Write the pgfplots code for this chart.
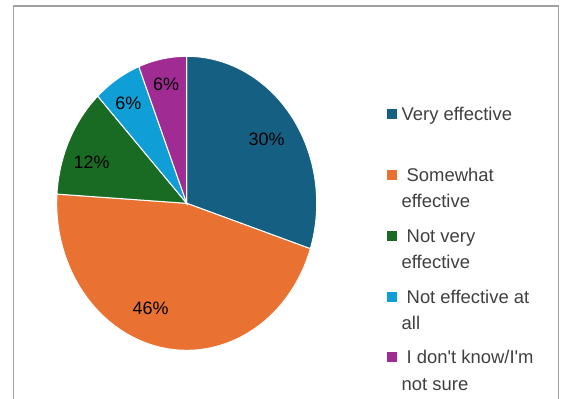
\documentclass[border=0pt]{standalone}
\usepackage{fontspec}
\newfontfamily\chartfont{Liberation Sans}
\usepackage{pgfplots}
\usepackage{pgfplotstable}
\pgfplotsset{compat=1.18}
\definecolor{cA}{HTML}{156082}
\definecolor{cB}{HTML}{E97132}
\definecolor{cC}{HTML}{196B24}
\definecolor{cD}{HTML}{0F9ED5}
\definecolor{cE}{HTML}{A02B93}
\definecolor{framegray}{RGB}{160,160,160}
\definecolor{labelgray}{RGB}{64,64,64}

% share of answers (percent), in order clockwise from 12 o'clock
\pgfplotstableread{
pct col
30 cA
46 cB
12 cC
6 cD
6 cE
}\piedata

\newcommand\lgd[2]{\parbox[t]{170bp}{\chartfont\strut #1\newline\strut #2}}

\begin{document}
\begin{tikzpicture}[font=\chartfont]
\useasboundingbox (0,0) rectangle (565bp,399bp);
\fill[white] (0,0) rectangle (565bp,399bp);
\draw[framegray, line width=1.5bp] (13.5bp,-2bp) -- (13.5bp,393bp) -- (558.5bp,393bp) -- (558.5bp,-2bp);
\begin{axis}[
  at={(186.7bp,195.7bp)}, anchor=center,
  scale only axis, width=260bp, height=294bp,
  xmin=-1, xmax=1, ymin=-1, ymax=1,
  hide axis, clip=false,
  legend style={at={(axis description cs:1.2692,0.8441)}, anchor=north west,
    draw=none, fill=none, inner sep=0pt, outer sep=0pt,
    column sep=5bp, row sep=8bp,
    font=\chartfont\fontsize{18.5}{26.5}\selectfont, text=labelgray,
    nodes={inner sep=0pt, text depth=},
    cells={anchor=base west}},
  legend image code/.code={\fill[#1, draw=none] (0bp,1.5bp) rectangle (10bp,11.5bp);},
  legend entries={
    {\lgd{Very effective}{}},
    {\lgd{\hspace*{5bp}Somewhat}{effective}},
    {\lgd{\hspace*{5bp}Not very}{effective}},
    {\lgd{\hspace*{5bp}Not effective at}{all}},
    {\lgd{\hspace*{5bp}I don't know/I'm}{not sure}}
  },
]
\def\cum{0}
\pgfplotsforeachungrouped \i in {0,...,4}{%
  \pgfplotstablegetelem{\i}{pct}\of\piedata \let\slicepct\pgfplotsretval
  \pgfplotstablegetelem{\i}{col}\of\piedata \let\slicecol\pgfplotsretval
  \pgfmathsetmacro\angA{90-3.6*(\cum+\slicepct)}
  \pgfmathsetmacro\angB{90-3.6*\cum}
  \edef\temp{\noexpand\addplot[fill=\slicecol, draw=white, line width=1bp, domain=\angA:\angB, samples=100]
     ({cos(x)},{sin(x)}) -- (axis cs:0,0) -- cycle;}
  \temp
  \pgfmathsetmacro\cum{\cum+\slicepct}
}
\begin{scope}[font=\chartfont\fontsize{18}{21}\selectfont, text=black]
\node at (axis cs:0.615,0.435) {30\%};
\node at (axis cs:-0.277,-0.714) {46\%};
\node at (axis cs:-0.731,0.276) {12\%};
\node at (axis cs:-0.449,0.680) {6\%};
\node at (axis cs:-0.159,0.810) {6\%};
\end{scope}
\end{axis}
\end{tikzpicture}
\end{document}
